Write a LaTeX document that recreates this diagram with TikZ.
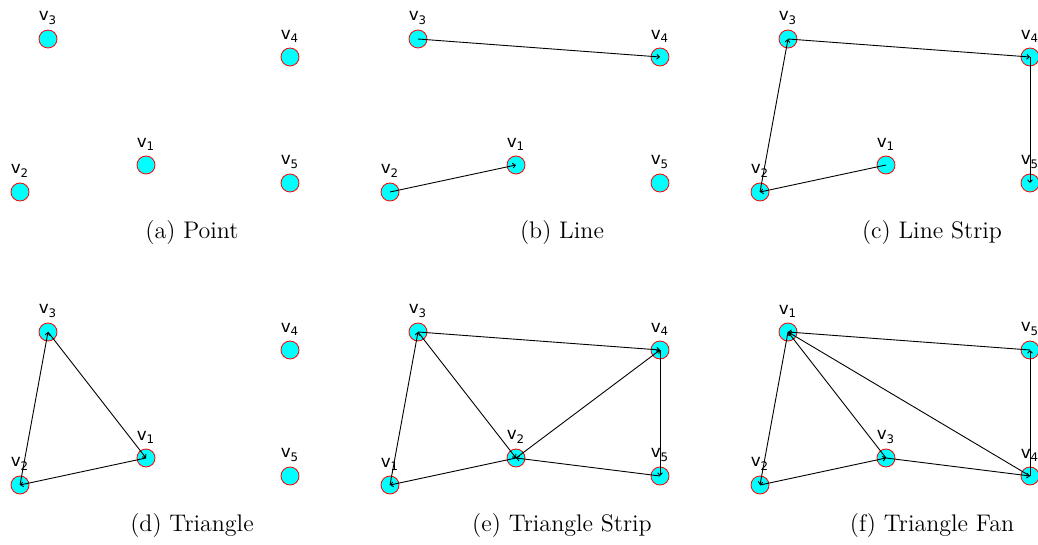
\documentclass[tikz,border=0pt]{standalone}
\usepackage{fontspec}
\newfontfamily\vlabelfont{DejaVu Sans}
\usetikzlibrary{arrows.meta}
\definecolor{vertcyan}{RGB}{0,255,255}
\definecolor{vertred}{RGB}{255,0,0}

\newcommand{\vname}[1]{v\textsubscript{#1}}

\begin{document}
\begin{tikzpicture}[
  x=0.5pt, y=-0.5pt,
  vert/.style={circle, draw=vertred, fill=vertcyan, line width=0.4pt, minimum size=9pt, inner sep=0pt},
  vlabel/.style={font=\vlabelfont\fontsize{8.4}{9}\selectfont, inner sep=0.5pt},
  edge/.style={line width=0.45pt, -{Straight Barb[length=1.3pt,width=2.4pt]}},
  caption/.style={font=\large}
]
\useasboundingbox (0,0) rectangle (1038,545);

% (a) points
\foreach \n/\x/\y in {1/146/165,2/20/192,3/48/39,4/290/57,5/290/183}
  \node[vert, label={[vlabel, label distance=2pt]above:\vname{\n}}] (a\n) at (\x,\y) {};
\node[caption] (capa) at (192,233) {(a)~Point};

% (b) lines
\foreach \n/\x/\y in {1/516/165,2/390/192,3/418/39,4/660/57,5/660/183}
  \node[vert, label={[vlabel, label distance=2pt]above:\vname{\n}}] (b\n) at (\x,\y) {};
\draw[edge] (b3.center) -- (b4.center);
\draw[edge] (b2.center) -- (b1.center);
\node[caption] (capb) at (562,233) {(b)~Line};

% (c) line strip
\foreach \n/\x/\y in {1/886/165,2/760/192,3/788/39,4/1030/57,5/1030/183}
  \node[vert, label={[vlabel, label distance=2pt]above:\vname{\n}}] (c\n) at (\x,\y) {};
\draw[edge] (c1.center) -- (c2.center);
\draw[edge] (c2.center) -- (c3.center);
\draw[edge] (c3.center) -- (c4.center);
\draw[edge] (c4.center) -- (c5.center);
\node[caption] (capc) at (932,233) {(c)~Line Strip};

% (d) triangle
\foreach \n/\x/\y in {1/146/458,2/20/485,3/48/332,4/290/350,5/290/476}
  \node[vert, label={[vlabel, label distance=2pt]above:\vname{\n}}] (d\n) at (\x,\y) {};
\draw[edge] (d1.center) -- (d2.center);
\draw[edge] (d2.center) -- (d3.center);
\draw[edge] (d3.center) -- (d1.center);
\node[caption] (capd) at (192,526) {(d)~Triangle};

% (e) triangle strip
\foreach \n/\x/\y in {1/390/485,2/516/458,3/418/332,4/660/350,5/660/476}
  \node[vert, label={[vlabel, label distance=2pt]above:\vname{\n}}] (e\n) at (\x,\y) {};
\draw[edge] (e1.center) -- (e3.center);
\draw[edge] (e3.center) -- (e2.center);
\draw[edge] (e2.center) -- (e1.center);
\draw[edge] (e3.center) -- (e4.center);
\draw[edge] (e2.center) -- (e4.center);
\draw[edge] (e4.center) -- (e5.center);
\draw[edge] (e5.center) -- (e2.center);
\node[caption] (cape) at (562,526) {(e)~Triangle Strip};

% (f) triangle fan
\foreach \n/\x/\y in {1/788/332,2/760/485,3/886/458,4/1030/476,5/1030/350}
  \node[vert, label={[vlabel, label distance=2pt]above:\vname{\n}}] (f\n) at (\x,\y) {};
\draw[edge] (f1.center) -- (f2.center);
\draw[edge] (f2.center) -- (f3.center);
\draw[edge] (f3.center) -- (f4.center);
\draw[edge] (f4.center) -- (f5.center);
\draw[edge] (f5.center) -- (f1.center);
\draw[edge] (f3.center) -- (f1.center);
\draw[edge] (f4.center) -- (f1.center);
\node[caption] (capf) at (932,526) {(f)~Triangle Fan};

\end{tikzpicture}
\end{document}
